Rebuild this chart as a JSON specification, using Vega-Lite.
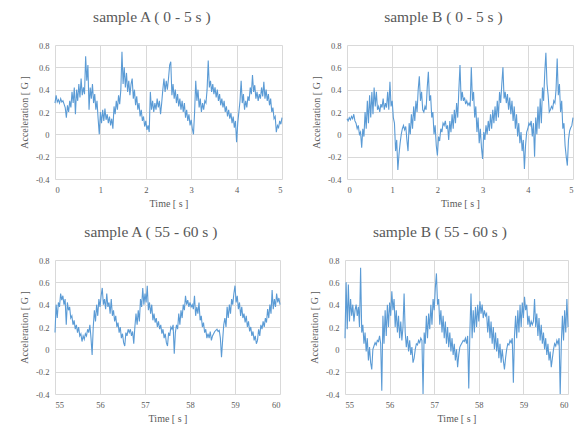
{
"$schema": "https://vega.github.io/schema/vega-lite/v6.json",
"background": "white",
"padding": {"left": 19, "top": 9, "right": 0, "bottom": 0},
"config": {
  "view": {"stroke": null},
  "font": "Liberation Serif",
  "title": {"font": "Liberation Serif", "fontSize": 15.5, "fontWeight": "normal", "color": "#595959", "anchor": "middle", "frame": "bounds", "offset": 16},
  "axis": {"labelFont": "Liberation Serif", "titleFont": "Liberation Serif", "labelColor": "#595959", "titleColor": "#595959", "labelFontSize": 8.5, "titleFontSize": 10, "titleFontWeight": "normal", "gridColor": "#d9d9d9", "gridWidth": 1, "domain": false, "ticks": false, "labelPadding": 6, "titlePadding": 5},
  "axisY": {"titlePadding": 6},
  "line": {"color": "#5b9bd5", "strokeWidth": 1.1},
  "concat": {"spacing": 26}
},
"datasets": {
"a1": [
{"t":0.000,"g":0.28},{"t":0.025,"g":0.35},{"t":0.050,"g":0.29},{"t":0.075,"g":0.31},{"t":0.100,"g":0.28},{"t":0.125,"g":0.32},{"t":0.150,"g":0.29},{"t":0.175,"g":0.30},{"t":0.200,"g":0.27},{"t":0.225,"g":0.24},
{"t":0.250,"g":0.15},{"t":0.275,"g":0.26},{"t":0.300,"g":0.20},{"t":0.325,"g":0.30},{"t":0.350,"g":0.24},{"t":0.375,"g":0.38},{"t":0.400,"g":0.28},{"t":0.425,"g":0.42},{"t":0.450,"g":0.18},{"t":0.475,"g":0.40},
{"t":0.500,"g":0.30},{"t":0.525,"g":0.45},{"t":0.550,"g":0.33},{"t":0.575,"g":0.50},{"t":0.600,"g":0.35},{"t":0.625,"g":0.42},{"t":0.650,"g":0.36},{"t":0.675,"g":0.70},{"t":0.700,"g":0.48},{"t":0.725,"g":0.62},
{"t":0.750,"g":0.22},{"t":0.775,"g":0.42},{"t":0.800,"g":0.32},{"t":0.825,"g":0.45},{"t":0.850,"g":0.28},{"t":0.875,"g":0.36},{"t":0.900,"g":0.22},{"t":0.925,"g":0.30},{"t":0.950,"g":0.14},{"t":0.975,"g":0.00},
{"t":1.000,"g":0.20},{"t":1.025,"g":0.10},{"t":1.050,"g":0.22},{"t":1.075,"g":0.12},{"t":1.100,"g":0.23},{"t":1.125,"g":0.13},{"t":1.150,"g":0.18},{"t":1.175,"g":0.10},{"t":1.200,"g":0.16},{"t":1.225,"g":0.08},
{"t":1.250,"g":0.14},{"t":1.275,"g":0.05},{"t":1.300,"g":0.25},{"t":1.325,"g":0.18},{"t":1.350,"g":0.30},{"t":1.375,"g":0.22},{"t":1.400,"g":0.35},{"t":1.425,"g":0.27},{"t":1.450,"g":0.40},{"t":1.475,"g":0.74},
{"t":1.500,"g":0.45},{"t":1.525,"g":0.60},{"t":1.550,"g":0.42},{"t":1.575,"g":0.55},{"t":1.600,"g":0.38},{"t":1.625,"g":0.48},{"t":1.650,"g":0.35},{"t":1.675,"g":0.45},{"t":1.700,"g":0.50},{"t":1.725,"g":0.32},
{"t":1.750,"g":0.40},{"t":1.775,"g":0.26},{"t":1.800,"g":0.34},{"t":1.825,"g":0.22},{"t":1.850,"g":0.28},{"t":1.875,"g":0.16},{"t":1.900,"g":0.22},{"t":1.925,"g":0.12},{"t":1.950,"g":0.16},{"t":1.975,"g":0.07},
{"t":2.000,"g":0.12},{"t":2.025,"g":0.04},{"t":2.050,"g":0.08},{"t":2.075,"g":0.02},{"t":2.100,"g":0.38},{"t":2.125,"g":0.22},{"t":2.150,"g":0.30},{"t":2.175,"g":0.20},{"t":2.200,"g":0.28},{"t":2.225,"g":0.22},
{"t":2.250,"g":0.32},{"t":2.275,"g":0.24},{"t":2.300,"g":0.30},{"t":2.325,"g":0.18},{"t":2.350,"g":0.28},{"t":2.375,"g":0.40},{"t":2.400,"g":0.50},{"t":2.425,"g":0.38},{"t":2.450,"g":0.48},{"t":2.475,"g":0.40},
{"t":2.500,"g":0.50},{"t":2.525,"g":0.62},{"t":2.550,"g":0.65},{"t":2.575,"g":0.35},{"t":2.600,"g":0.45},{"t":2.625,"g":0.32},{"t":2.650,"g":0.40},{"t":2.675,"g":0.28},{"t":2.700,"g":0.36},{"t":2.725,"g":0.25},
{"t":2.750,"g":0.32},{"t":2.775,"g":0.22},{"t":2.800,"g":0.30},{"t":2.825,"g":0.20},{"t":2.850,"g":0.28},{"t":2.875,"g":0.15},{"t":2.900,"g":0.22},{"t":2.925,"g":0.12},{"t":2.950,"g":0.18},{"t":2.975,"g":0.08},
{"t":3.000,"g":0.13},{"t":3.025,"g":0.05},{"t":3.050,"g":0.00},{"t":3.075,"g":0.20},{"t":3.100,"g":0.48},{"t":3.125,"g":0.30},{"t":3.150,"g":0.40},{"t":3.175,"g":0.24},{"t":3.200,"g":0.32},{"t":3.225,"g":0.20},
{"t":3.250,"g":0.28},{"t":3.275,"g":0.22},{"t":3.300,"g":0.30},{"t":3.325,"g":0.28},{"t":3.350,"g":0.40},{"t":3.375,"g":0.66},{"t":3.400,"g":0.42},{"t":3.425,"g":0.48},{"t":3.450,"g":0.38},{"t":3.475,"g":0.45},
{"t":3.500,"g":0.36},{"t":3.525,"g":0.42},{"t":3.550,"g":0.33},{"t":3.575,"g":0.40},{"t":3.600,"g":0.30},{"t":3.625,"g":0.36},{"t":3.650,"g":0.26},{"t":3.675,"g":0.32},{"t":3.700,"g":0.24},{"t":3.725,"g":0.30},
{"t":3.750,"g":0.20},{"t":3.775,"g":0.25},{"t":3.800,"g":0.16},{"t":3.825,"g":0.22},{"t":3.850,"g":0.14},{"t":3.875,"g":0.19},{"t":3.900,"g":0.10},{"t":3.925,"g":0.16},{"t":3.950,"g":0.06},{"t":3.975,"g":0.12},
{"t":4.000,"g":-0.07},{"t":4.025,"g":0.10},{"t":4.050,"g":0.20},{"t":4.075,"g":0.30},{"t":4.100,"g":0.48},{"t":4.125,"g":0.28},{"t":4.150,"g":0.36},{"t":4.175,"g":0.22},{"t":4.200,"g":0.30},{"t":4.225,"g":0.24},
{"t":4.250,"g":0.34},{"t":4.275,"g":0.30},{"t":4.300,"g":0.42},{"t":4.325,"g":0.36},{"t":4.350,"g":0.53},{"t":4.375,"g":0.38},{"t":4.400,"g":0.44},{"t":4.425,"g":0.32},{"t":4.450,"g":0.38},{"t":4.475,"g":0.30},
{"t":4.500,"g":0.36},{"t":4.525,"g":0.32},{"t":4.550,"g":0.42},{"t":4.575,"g":0.34},{"t":4.600,"g":0.47},{"t":4.625,"g":0.32},{"t":4.650,"g":0.40},{"t":4.675,"g":0.30},{"t":4.700,"g":0.36},{"t":4.725,"g":0.26},
{"t":4.750,"g":0.32},{"t":4.775,"g":0.20},{"t":4.800,"g":0.24},{"t":4.825,"g":0.14},{"t":4.850,"g":0.16},{"t":4.875,"g":0.02},{"t":4.900,"g":0.08},{"t":4.925,"g":0.06},{"t":4.950,"g":0.12},{"t":4.975,"g":0.09},
{"t":5.000,"g":0.15}
],
"b1": [
{"t":0.000,"g":0.14},{"t":0.025,"g":0.12},{"t":0.050,"g":0.15},{"t":0.075,"g":0.13},{"t":0.100,"g":0.16},{"t":0.125,"g":0.14},{"t":0.150,"g":0.18},{"t":0.175,"g":0.12},{"t":0.200,"g":0.10},{"t":0.225,"g":0.05},
{"t":0.250,"g":0.08},{"t":0.275,"g":0.00},{"t":0.300,"g":0.02},{"t":0.325,"g":-0.12},{"t":0.350,"g":0.05},{"t":0.375,"g":-0.02},{"t":0.400,"g":0.20},{"t":0.425,"g":0.05},{"t":0.450,"g":0.30},{"t":0.475,"g":0.10},
{"t":0.500,"g":0.35},{"t":0.525,"g":0.15},{"t":0.550,"g":0.38},{"t":0.575,"g":0.18},{"t":0.600,"g":0.42},{"t":0.625,"g":0.25},{"t":0.650,"g":0.38},{"t":0.675,"g":0.22},{"t":0.700,"g":0.25},{"t":0.725,"g":0.20},
{"t":0.750,"g":0.27},{"t":0.775,"g":0.24},{"t":0.800,"g":0.32},{"t":0.825,"g":0.22},{"t":0.850,"g":0.28},{"t":0.875,"g":0.24},{"t":0.900,"g":0.38},{"t":0.925,"g":0.22},{"t":0.950,"g":0.47},{"t":0.975,"g":0.25},
{"t":1.000,"g":0.30},{"t":1.025,"g":0.15},{"t":1.050,"g":0.10},{"t":1.075,"g":-0.15},{"t":1.100,"g":-0.05},{"t":1.125,"g":-0.32},{"t":1.150,"g":-0.18},{"t":1.175,"g":-0.08},{"t":1.200,"g":0.00},{"t":1.225,"g":0.05},
{"t":1.250,"g":0.08},{"t":1.275,"g":0.04},{"t":1.300,"g":0.07},{"t":1.325,"g":-0.05},{"t":1.350,"g":-0.15},{"t":1.375,"g":0.10},{"t":1.400,"g":0.00},{"t":1.425,"g":0.18},{"t":1.450,"g":0.05},{"t":1.475,"g":0.25},
{"t":1.500,"g":0.12},{"t":1.525,"g":0.30},{"t":1.550,"g":0.20},{"t":1.575,"g":0.40},{"t":1.600,"g":0.52},{"t":1.625,"g":0.30},{"t":1.650,"g":0.38},{"t":1.675,"g":0.22},{"t":1.700,"g":0.20},{"t":1.725,"g":0.25},
{"t":1.750,"g":0.22},{"t":1.775,"g":0.42},{"t":1.800,"g":0.56},{"t":1.825,"g":0.30},{"t":1.850,"g":0.35},{"t":1.875,"g":0.15},{"t":1.900,"g":0.20},{"t":1.925,"g":0.00},{"t":1.950,"g":0.08},{"t":1.975,"g":-0.10},
{"t":2.000,"g":-0.19},{"t":2.025,"g":-0.02},{"t":2.050,"g":-0.06},{"t":2.075,"g":0.05},{"t":2.100,"g":0.02},{"t":2.125,"g":0.10},{"t":2.150,"g":0.08},{"t":2.175,"g":0.12},{"t":2.200,"g":0.05},{"t":2.225,"g":0.08},
{"t":2.250,"g":-0.05},{"t":2.275,"g":0.12},{"t":2.300,"g":0.02},{"t":2.325,"g":0.18},{"t":2.350,"g":0.05},{"t":2.375,"g":0.22},{"t":2.400,"g":0.10},{"t":2.425,"g":0.28},{"t":2.450,"g":0.15},{"t":2.475,"g":0.40},
{"t":2.500,"g":0.62},{"t":2.525,"g":0.30},{"t":2.550,"g":0.38},{"t":2.575,"g":0.30},{"t":2.600,"g":0.33},{"t":2.625,"g":0.27},{"t":2.650,"g":0.30},{"t":2.675,"g":0.26},{"t":2.700,"g":0.28},{"t":2.725,"g":0.25},
{"t":2.750,"g":0.60},{"t":2.775,"g":0.30},{"t":2.800,"g":0.38},{"t":2.825,"g":0.15},{"t":2.850,"g":0.25},{"t":2.875,"g":0.02},{"t":2.900,"g":0.15},{"t":2.925,"g":-0.08},{"t":2.950,"g":0.05},{"t":2.975,"g":-0.12},
{"t":3.000,"g":-0.22},{"t":3.025,"g":0.02},{"t":3.050,"g":-0.05},{"t":3.075,"g":0.08},{"t":3.100,"g":0.00},{"t":3.125,"g":0.12},{"t":3.150,"g":0.03},{"t":3.175,"g":0.18},{"t":3.200,"g":0.05},{"t":3.225,"g":0.22},
{"t":3.250,"g":0.10},{"t":3.275,"g":0.25},{"t":3.300,"g":0.12},{"t":3.325,"g":0.30},{"t":3.350,"g":0.15},{"t":3.375,"g":0.38},{"t":3.400,"g":0.28},{"t":3.425,"g":0.45},{"t":3.450,"g":0.60},{"t":3.475,"g":0.32},
{"t":3.500,"g":0.38},{"t":3.525,"g":0.28},{"t":3.550,"g":0.36},{"t":3.575,"g":0.22},{"t":3.600,"g":0.33},{"t":3.625,"g":0.18},{"t":3.650,"g":0.30},{"t":3.675,"g":0.12},{"t":3.700,"g":0.25},{"t":3.725,"g":0.05},
{"t":3.750,"g":0.18},{"t":3.775,"g":-0.02},{"t":3.800,"g":0.10},{"t":3.825,"g":-0.08},{"t":3.850,"g":0.02},{"t":3.875,"g":-0.15},{"t":3.900,"g":-0.05},{"t":3.925,"g":-0.31},{"t":3.950,"g":-0.10},{"t":3.975,"g":0.02},
{"t":4.000,"g":0.05},{"t":4.025,"g":0.10},{"t":4.050,"g":0.08},{"t":4.075,"g":0.12},{"t":4.100,"g":-0.02},{"t":4.125,"g":0.10},{"t":4.150,"g":-0.20},{"t":4.175,"g":0.15},{"t":4.200,"g":0.00},{"t":4.225,"g":0.25},
{"t":4.250,"g":0.05},{"t":4.275,"g":0.32},{"t":4.300,"g":0.10},{"t":4.325,"g":0.42},{"t":4.350,"g":0.30},{"t":4.375,"g":0.55},{"t":4.400,"g":0.73},{"t":4.425,"g":0.45},{"t":4.450,"g":0.35},{"t":4.475,"g":0.20},
{"t":4.500,"g":0.22},{"t":4.525,"g":0.25},{"t":4.550,"g":0.23},{"t":4.575,"g":0.30},{"t":4.600,"g":0.28},{"t":4.625,"g":0.40},{"t":4.650,"g":0.68},{"t":4.675,"g":0.35},{"t":4.700,"g":0.45},{"t":4.725,"g":0.20},
{"t":4.750,"g":0.30},{"t":4.775,"g":0.05},{"t":4.800,"g":0.10},{"t":4.825,"g":-0.10},{"t":4.850,"g":-0.20},{"t":4.875,"g":-0.28},{"t":4.900,"g":-0.05},{"t":4.925,"g":0.03},{"t":4.950,"g":0.06},{"t":4.975,"g":0.08},
{"t":5.000,"g":0.15}
],
"a2": [
{"t":55.000,"g":0.15},{"t":55.025,"g":0.40},{"t":55.050,"g":0.28},{"t":55.075,"g":0.42},{"t":55.100,"g":0.38},{"t":55.125,"g":0.50},{"t":55.150,"g":0.44},{"t":55.175,"g":0.48},{"t":55.200,"g":0.40},{"t":55.225,"g":0.45},
{"t":55.250,"g":0.22},{"t":55.275,"g":0.42},{"t":55.300,"g":0.35},{"t":55.325,"g":0.38},{"t":55.350,"g":0.28},{"t":55.375,"g":0.30},{"t":55.400,"g":0.22},{"t":55.425,"g":0.26},{"t":55.450,"g":0.18},{"t":55.475,"g":0.22},
{"t":55.500,"g":0.15},{"t":55.525,"g":0.20},{"t":55.550,"g":0.12},{"t":55.575,"g":0.14},{"t":55.600,"g":0.07},{"t":55.625,"g":0.12},{"t":55.650,"g":0.09},{"t":55.675,"g":0.14},{"t":55.700,"g":0.12},{"t":55.725,"g":0.18},
{"t":55.750,"g":0.15},{"t":55.775,"g":0.22},{"t":55.800,"g":0.10},{"t":55.825,"g":-0.05},{"t":55.850,"g":0.20},{"t":55.875,"g":0.35},{"t":55.900,"g":0.25},{"t":55.925,"g":0.40},{"t":55.950,"g":0.30},{"t":55.975,"g":0.45},
{"t":56.000,"g":0.38},{"t":56.025,"g":0.48},{"t":56.050,"g":0.55},{"t":56.075,"g":0.40},{"t":56.100,"g":0.45},{"t":56.125,"g":0.36},{"t":56.150,"g":0.50},{"t":56.175,"g":0.38},{"t":56.200,"g":0.42},{"t":56.225,"g":0.32},
{"t":56.250,"g":0.45},{"t":56.275,"g":0.30},{"t":56.300,"g":0.35},{"t":56.325,"g":0.25},{"t":56.350,"g":0.30},{"t":56.375,"g":0.20},{"t":56.400,"g":0.24},{"t":56.425,"g":0.15},{"t":56.450,"g":0.20},{"t":56.475,"g":0.10},
{"t":56.500,"g":0.14},{"t":56.525,"g":0.06},{"t":56.550,"g":0.03},{"t":56.575,"g":0.15},{"t":56.600,"g":0.12},{"t":56.625,"g":0.18},{"t":56.650,"g":0.15},{"t":56.675,"g":0.18},{"t":56.700,"g":0.12},{"t":56.725,"g":0.16},
{"t":56.750,"g":0.05},{"t":56.775,"g":0.20},{"t":56.800,"g":0.32},{"t":56.825,"g":0.22},{"t":56.850,"g":0.35},{"t":56.875,"g":0.25},{"t":56.900,"g":0.45},{"t":56.925,"g":0.38},{"t":56.950,"g":0.55},{"t":56.975,"g":0.40},
{"t":57.000,"g":0.50},{"t":57.025,"g":0.42},{"t":57.050,"g":0.57},{"t":57.075,"g":0.35},{"t":57.100,"g":0.42},{"t":57.125,"g":0.32},{"t":57.150,"g":0.40},{"t":57.175,"g":0.26},{"t":57.200,"g":0.32},{"t":57.225,"g":0.24},
{"t":57.250,"g":0.28},{"t":57.275,"g":0.20},{"t":57.300,"g":0.25},{"t":57.325,"g":0.18},{"t":57.350,"g":0.22},{"t":57.375,"g":0.14},{"t":57.400,"g":0.18},{"t":57.425,"g":0.10},{"t":57.450,"g":0.14},{"t":57.475,"g":0.06},
{"t":57.500,"g":0.03},{"t":57.525,"g":0.15},{"t":57.550,"g":0.12},{"t":57.575,"g":0.20},{"t":57.600,"g":0.18},{"t":57.625,"g":0.22},{"t":57.650,"g":-0.04},{"t":57.675,"g":0.15},{"t":57.700,"g":0.22},{"t":57.725,"g":0.18},
{"t":57.750,"g":0.32},{"t":57.775,"g":0.22},{"t":57.800,"g":0.35},{"t":57.825,"g":0.28},{"t":57.850,"g":0.40},{"t":57.875,"g":0.35},{"t":57.900,"g":0.48},{"t":57.925,"g":0.40},{"t":57.950,"g":0.44},{"t":57.975,"g":0.38},
{"t":58.000,"g":0.42},{"t":58.025,"g":0.38},{"t":58.050,"g":0.40},{"t":58.075,"g":0.36},{"t":58.100,"g":0.48},{"t":58.125,"g":0.30},{"t":58.150,"g":0.38},{"t":58.175,"g":0.32},{"t":58.200,"g":0.42},{"t":58.225,"g":0.26},
{"t":58.250,"g":0.30},{"t":58.275,"g":0.20},{"t":58.300,"g":0.24},{"t":58.325,"g":0.15},{"t":58.350,"g":0.18},{"t":58.375,"g":0.10},{"t":58.400,"g":0.14},{"t":58.425,"g":0.10},{"t":58.450,"g":0.16},{"t":58.475,"g":0.08},
{"t":58.500,"g":0.12},{"t":58.525,"g":0.14},{"t":58.550,"g":0.16},{"t":58.575,"g":0.17},{"t":58.600,"g":0.18},{"t":58.625,"g":0.16},{"t":58.650,"g":0.17},{"t":58.675,"g":0.10},{"t":58.700,"g":-0.07},{"t":58.725,"g":0.08},
{"t":58.750,"g":0.22},{"t":58.775,"g":0.28},{"t":58.800,"g":0.20},{"t":58.825,"g":0.38},{"t":58.850,"g":0.28},{"t":58.875,"g":0.40},{"t":58.900,"g":0.32},{"t":58.925,"g":0.45},{"t":58.950,"g":0.40},{"t":58.975,"g":0.50},
{"t":59.000,"g":0.57},{"t":59.025,"g":0.42},{"t":59.050,"g":0.48},{"t":59.075,"g":0.36},{"t":59.100,"g":0.42},{"t":59.125,"g":0.30},{"t":59.150,"g":0.38},{"t":59.175,"g":0.28},{"t":59.200,"g":0.32},{"t":59.225,"g":0.24},
{"t":59.250,"g":0.30},{"t":59.275,"g":0.20},{"t":59.300,"g":0.25},{"t":59.325,"g":0.16},{"t":59.350,"g":0.20},{"t":59.375,"g":0.12},{"t":59.400,"g":0.16},{"t":59.425,"g":0.08},{"t":59.450,"g":0.12},{"t":59.475,"g":0.05},
{"t":59.500,"g":0.08},{"t":59.525,"g":0.18},{"t":59.550,"g":0.12},{"t":59.575,"g":0.22},{"t":59.600,"g":0.18},{"t":59.625,"g":0.25},{"t":59.650,"g":0.20},{"t":59.675,"g":0.28},{"t":59.700,"g":0.24},{"t":59.725,"g":0.36},
{"t":59.750,"g":0.28},{"t":59.775,"g":0.40},{"t":59.800,"g":0.32},{"t":59.825,"g":0.53},{"t":59.850,"g":0.36},{"t":59.875,"g":0.45},{"t":59.900,"g":0.38},{"t":59.925,"g":0.50},{"t":59.950,"g":0.42},{"t":59.975,"g":0.46},
{"t":60.000,"g":0.40}
],
"b2": [
{"t":55.000,"g":0.10},{"t":55.025,"g":0.60},{"t":55.050,"g":0.18},{"t":55.075,"g":0.58},{"t":55.100,"g":0.25},{"t":55.125,"g":0.45},{"t":55.150,"g":0.30},{"t":55.175,"g":0.40},{"t":55.200,"g":0.25},{"t":55.225,"g":0.35},
{"t":55.250,"g":0.40},{"t":55.275,"g":0.30},{"t":55.300,"g":0.38},{"t":55.325,"g":0.20},{"t":55.350,"g":0.73},{"t":55.375,"g":0.15},{"t":55.400,"g":0.22},{"t":55.425,"g":0.05},{"t":55.450,"g":0.15},{"t":55.475,"g":-0.02},
{"t":55.500,"g":0.10},{"t":55.525,"g":-0.10},{"t":55.550,"g":0.02},{"t":55.575,"g":-0.12},{"t":55.600,"g":-0.18},{"t":55.625,"g":0.00},{"t":55.650,"g":0.03},{"t":55.675,"g":0.06},{"t":55.700,"g":0.04},{"t":55.725,"g":0.08},
{"t":55.750,"g":0.07},{"t":55.775,"g":0.12},{"t":55.800,"g":0.05},{"t":55.825,"g":-0.37},{"t":55.850,"g":0.30},{"t":55.875,"g":0.05},{"t":55.900,"g":0.35},{"t":55.925,"g":0.12},{"t":55.950,"g":0.40},{"t":55.975,"g":0.20},
{"t":56.000,"g":0.42},{"t":56.025,"g":0.30},{"t":56.050,"g":0.52},{"t":56.075,"g":0.35},{"t":56.100,"g":0.45},{"t":56.125,"g":0.20},{"t":56.150,"g":0.35},{"t":56.175,"g":0.15},{"t":56.200,"g":0.30},{"t":56.225,"g":0.10},
{"t":56.250,"g":0.25},{"t":56.275,"g":0.08},{"t":56.300,"g":0.20},{"t":56.325,"g":0.50},{"t":56.350,"g":0.15},{"t":56.375,"g":0.02},{"t":56.400,"g":0.12},{"t":56.425,"g":-0.02},{"t":56.450,"g":0.08},{"t":56.475,"g":-0.05},
{"t":56.500,"g":0.02},{"t":56.525,"g":-0.12},{"t":56.550,"g":-0.08},{"t":56.575,"g":0.00},{"t":56.600,"g":0.05},{"t":56.625,"g":0.04},{"t":56.650,"g":0.08},{"t":56.675,"g":0.06},{"t":56.700,"g":0.10},{"t":56.725,"g":0.08},
{"t":56.750,"g":-0.40},{"t":56.775,"g":0.15},{"t":56.800,"g":0.05},{"t":56.825,"g":0.30},{"t":56.850,"g":0.10},{"t":56.875,"g":0.32},{"t":56.900,"g":0.18},{"t":56.925,"g":0.40},{"t":56.950,"g":0.22},{"t":56.975,"g":0.45},
{"t":57.000,"g":0.35},{"t":57.025,"g":0.55},{"t":57.050,"g":0.68},{"t":57.075,"g":0.40},{"t":57.100,"g":0.45},{"t":57.125,"g":0.22},{"t":57.150,"g":0.35},{"t":57.175,"g":0.15},{"t":57.200,"g":0.30},{"t":57.225,"g":0.10},
{"t":57.250,"g":0.25},{"t":57.275,"g":0.05},{"t":57.300,"g":0.20},{"t":57.325,"g":0.02},{"t":57.350,"g":0.15},{"t":57.375,"g":-0.02},{"t":57.400,"g":0.10},{"t":57.425,"g":-0.05},{"t":57.450,"g":0.05},{"t":57.475,"g":-0.10},
{"t":57.500,"g":0.00},{"t":57.525,"g":-0.16},{"t":57.550,"g":-0.05},{"t":57.575,"g":0.02},{"t":57.600,"g":0.04},{"t":57.625,"g":0.06},{"t":57.650,"g":0.08},{"t":57.675,"g":0.07},{"t":57.700,"g":0.10},{"t":57.725,"g":0.05},
{"t":57.750,"g":0.12},{"t":57.775,"g":-0.35},{"t":57.800,"g":0.15},{"t":57.825,"g":0.50},{"t":57.850,"g":0.10},{"t":57.875,"g":0.35},{"t":57.900,"g":0.15},{"t":57.925,"g":0.38},{"t":57.950,"g":0.20},{"t":57.975,"g":0.40},
{"t":58.000,"g":0.25},{"t":58.025,"g":0.43},{"t":58.050,"g":0.32},{"t":58.075,"g":0.40},{"t":58.100,"g":0.28},{"t":58.125,"g":0.35},{"t":58.150,"g":0.30},{"t":58.175,"g":0.32},{"t":58.200,"g":0.15},{"t":58.225,"g":0.30},
{"t":58.250,"g":0.10},{"t":58.275,"g":0.25},{"t":58.300,"g":0.05},{"t":58.325,"g":0.20},{"t":58.350,"g":0.00},{"t":58.375,"g":0.15},{"t":58.400,"g":-0.02},{"t":58.425,"g":0.10},{"t":58.450,"g":-0.08},{"t":58.475,"g":0.05},
{"t":58.500,"g":-0.12},{"t":58.525,"g":0.00},{"t":58.550,"g":-0.10},{"t":58.575,"g":-0.18},{"t":58.600,"g":-0.08},{"t":58.625,"g":0.00},{"t":58.650,"g":0.05},{"t":58.675,"g":0.04},{"t":58.700,"g":0.08},{"t":58.725,"g":0.06},
{"t":58.750,"g":0.10},{"t":58.775,"g":-0.30},{"t":58.800,"g":0.12},{"t":58.825,"g":0.30},{"t":58.850,"g":0.10},{"t":58.875,"g":0.35},{"t":58.900,"g":0.15},{"t":58.925,"g":0.40},{"t":58.950,"g":0.20},{"t":58.975,"g":0.42},
{"t":59.000,"g":0.28},{"t":59.025,"g":0.47},{"t":59.050,"g":0.35},{"t":59.075,"g":0.40},{"t":59.100,"g":0.22},{"t":59.125,"g":0.30},{"t":59.150,"g":0.20},{"t":59.175,"g":0.25},{"t":59.200,"g":0.22},{"t":59.225,"g":0.25},
{"t":59.250,"g":0.45},{"t":59.275,"g":0.20},{"t":59.300,"g":0.32},{"t":59.325,"g":0.12},{"t":59.350,"g":0.28},{"t":59.375,"g":0.08},{"t":59.400,"g":0.22},{"t":59.425,"g":0.05},{"t":59.450,"g":0.15},{"t":59.475,"g":0.00},
{"t":59.500,"g":0.10},{"t":59.525,"g":-0.05},{"t":59.550,"g":0.05},{"t":59.575,"g":-0.10},{"t":59.600,"g":-0.02},{"t":59.625,"g":-0.16},{"t":59.650,"g":-0.08},{"t":59.675,"g":0.00},{"t":59.700,"g":0.05},{"t":59.725,"g":0.03},
{"t":59.750,"g":0.08},{"t":59.775,"g":0.05},{"t":59.800,"g":0.10},{"t":59.825,"g":-0.40},{"t":59.850,"g":0.05},{"t":59.875,"g":0.30},{"t":59.900,"g":0.08},{"t":59.925,"g":0.35},{"t":59.950,"g":0.15},{"t":59.975,"g":0.45},
{"t":60.000,"g":0.20}
]
},
"vconcat": [
 {"hconcat": [
  {"title": "sample A ( 0 - 5 s )", "width": 227, "height": 134, "data": {"name": "a1"}, "mark": "line",
   "encoding": {
    "x": {"field": "t", "type": "quantitative", "scale": {"domain": [0, 5], "nice": false}, "axis": {"values": [0,1,2,3,4,5], "format": "d", "title": "Time [ s ]"}},
    "y": {"field": "g", "type": "quantitative", "scale": {"domain": [-0.4, 0.8], "nice": false}, "axis": {"values": [-0.4,-0.2,0,0.2,0.4,0.6,0.8], "labelExpr": "toString(datum.value)", "title": "Acceleration [ G ]"}}
   }},
  {"title": "sample B ( 0 - 5 s )", "width": 226, "height": 134, "data": {"name": "b1"}, "mark": "line",
   "encoding": {
    "x": {"field": "t", "type": "quantitative", "scale": {"domain": [0, 5], "nice": false}, "axis": {"values": [0,1,2,3,4,5], "format": "d", "title": "Time [ s ]"}},
    "y": {"field": "g", "type": "quantitative", "scale": {"domain": [-0.4, 0.8], "nice": false}, "axis": {"values": [-0.4,-0.2,0,0.2,0.4,0.6,0.8], "labelExpr": "toString(datum.value)", "title": "Acceleration [ G ]"}}
   }}
 ]},
 {"hconcat": [
  {"title": "sample A ( 55 - 60 s )", "width": 225, "height": 134, "data": {"name": "a2"}, "mark": "line",
   "encoding": {
    "x": {"field": "t", "type": "quantitative", "scale": {"domain": [55, 60], "nice": false}, "axis": {"values": [55,56,57,58,59,60], "format": "d", "title": "Time [ s ]"}},
    "y": {"field": "g", "type": "quantitative", "scale": {"domain": [-0.4, 0.8], "nice": false}, "axis": {"values": [-0.4,-0.2,0,0.2,0.4,0.6,0.8], "labelExpr": "toString(datum.value)", "title": "Acceleration [ G ]"}}
   }},
  {"title": "sample B ( 55 - 60 s )", "width": 223, "height": 134, "data": {"name": "b2"}, "mark": "line",
   "encoding": {
    "x": {"field": "t", "type": "quantitative", "scale": {"domain": [55, 60], "nice": false}, "axis": {"values": [55,56,57,58,59,60], "format": "d", "title": "Time [ s ]"}},
    "y": {"field": "g", "type": "quantitative", "scale": {"domain": [-0.4, 0.8], "nice": false}, "axis": {"values": [-0.4,-0.2,0,0.2,0.4,0.6,0.8], "labelExpr": "toString(datum.value)", "title": "Acceleration [ G ]"}}
   }}
 ]}
],
"spacing": 15
}
